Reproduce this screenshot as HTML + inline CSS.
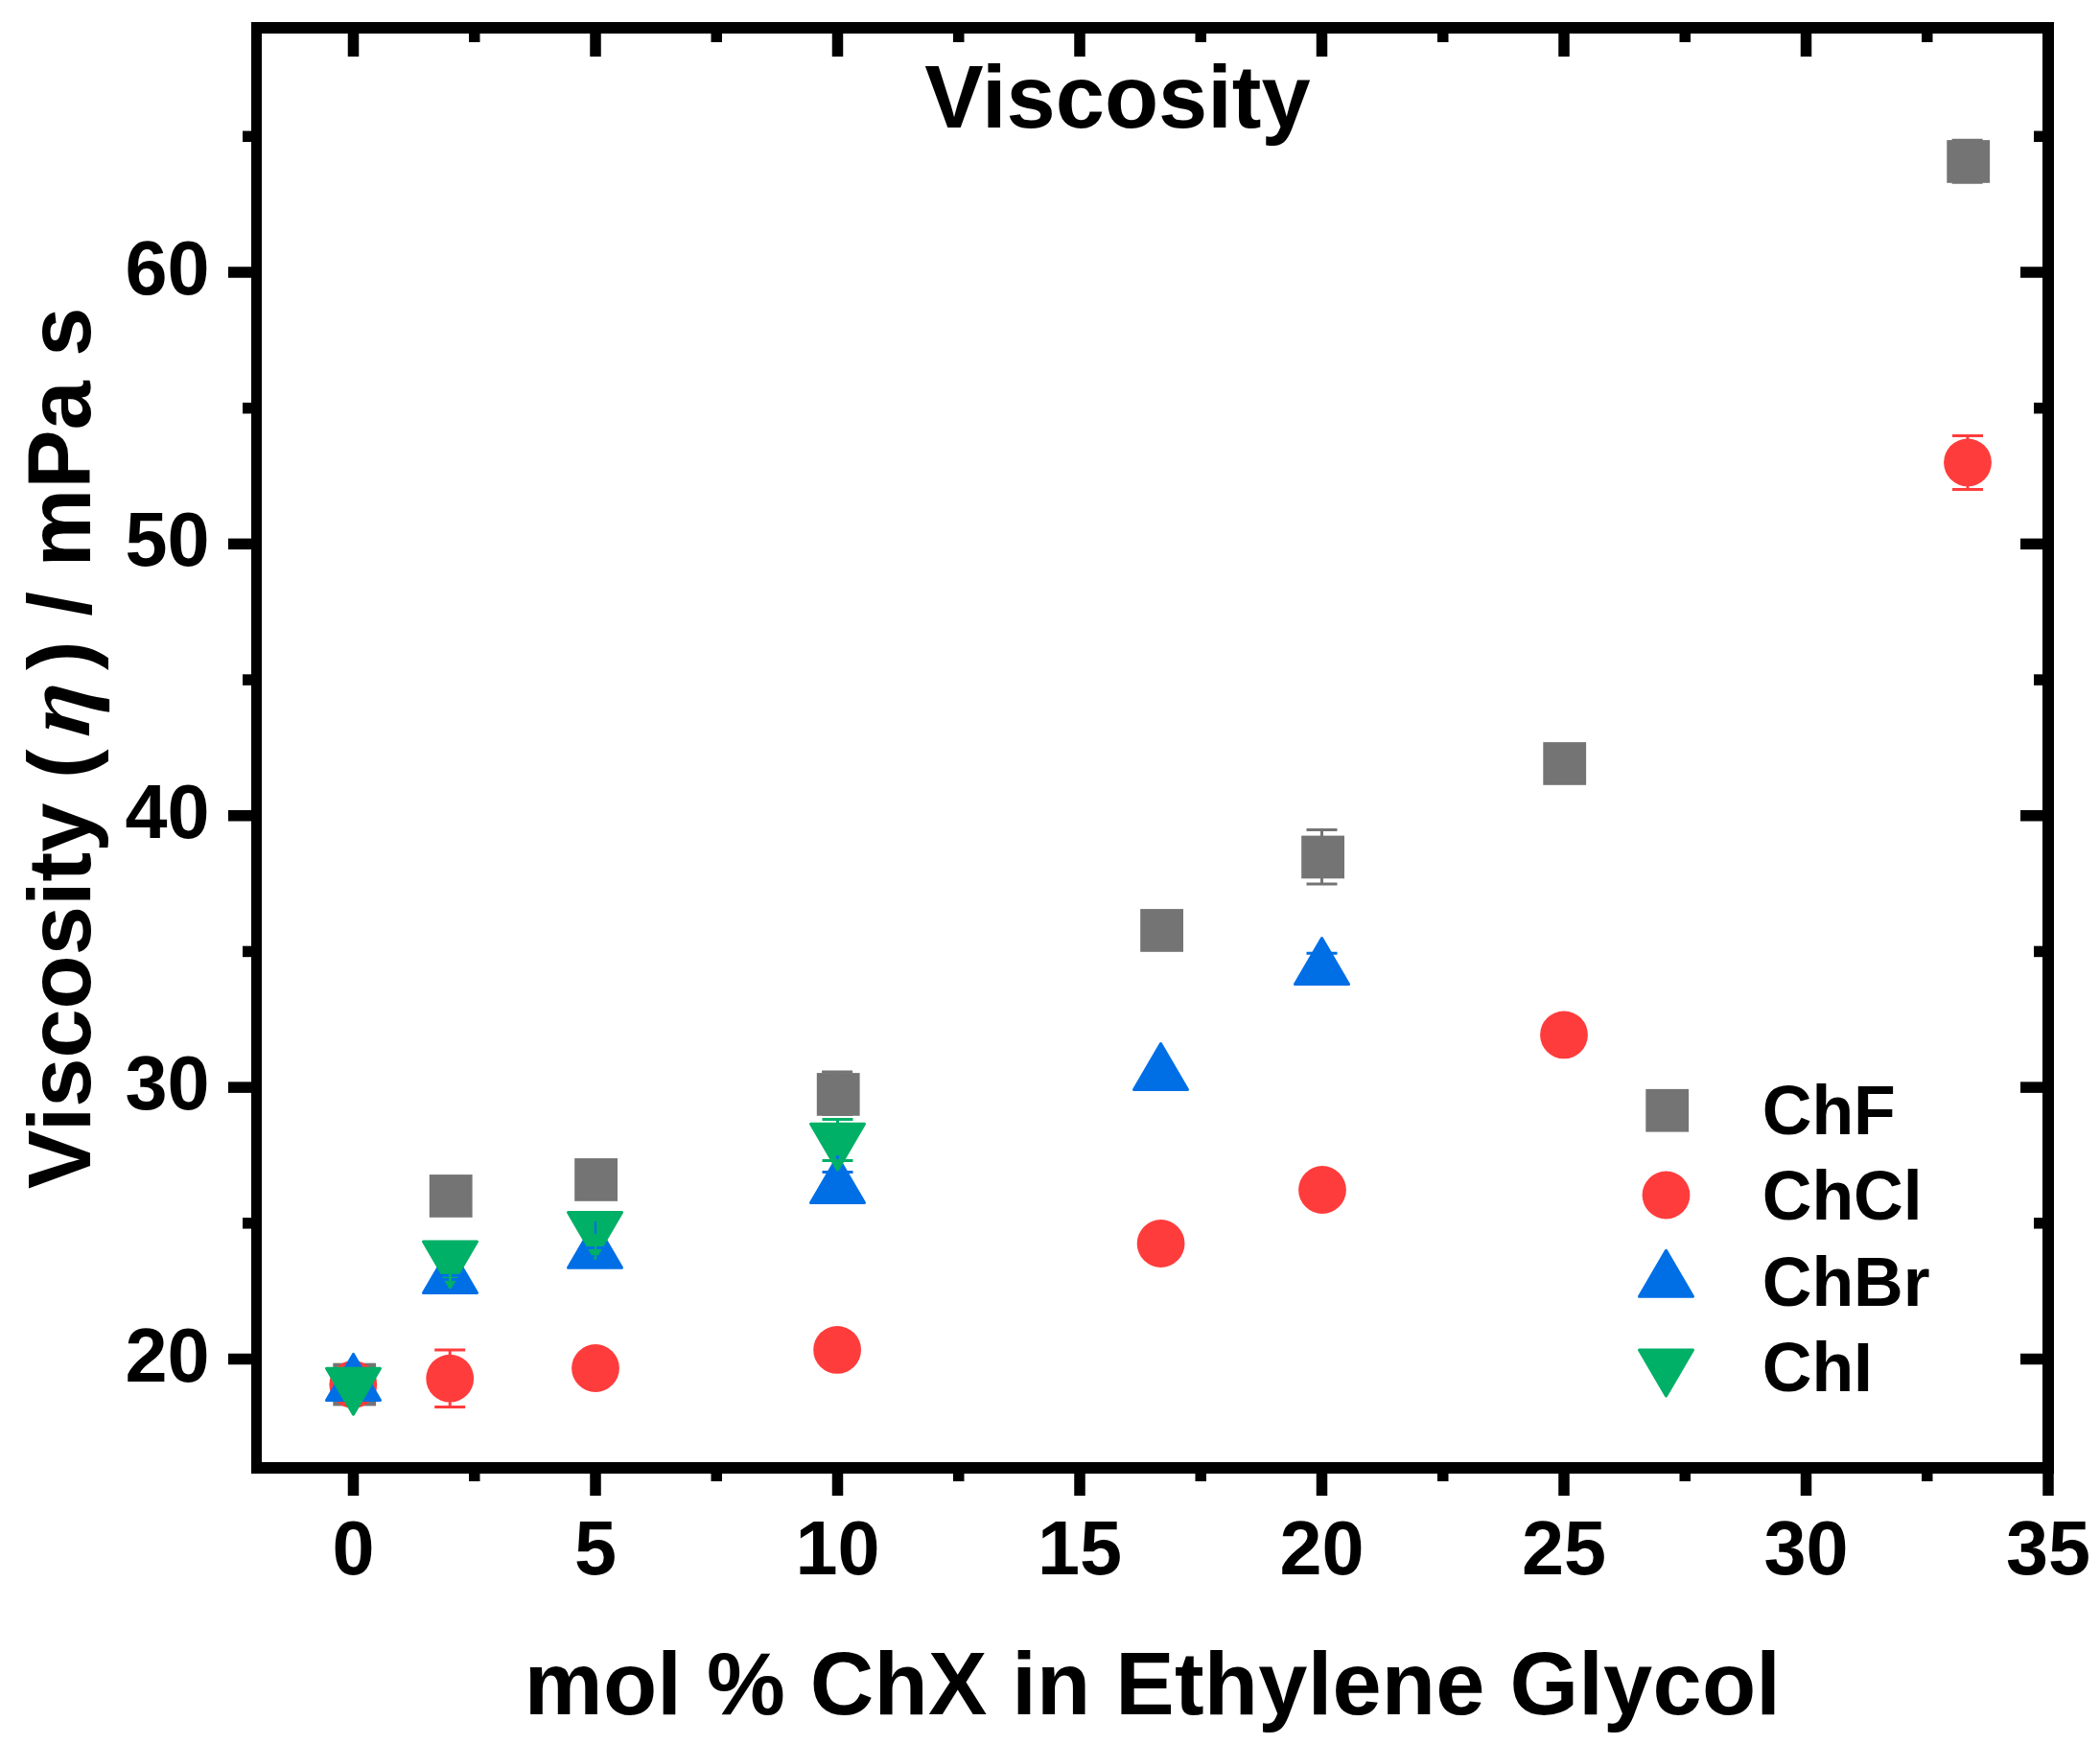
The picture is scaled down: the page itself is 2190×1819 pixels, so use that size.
<!DOCTYPE html>
<html lang="en"><head><meta charset="utf-8"><title>Viscosity</title>
<style>html,body{margin:0;padding:0;background:#fff;overflow:hidden}svg{display:block}text{font-family:"Liberation Sans",sans-serif;font-weight:bold;fill:#000}.eta{font-family:"Liberation Serif","DejaVu Serif",serif;font-style:italic;font-weight:bold}</style></head><body>
<svg width="2190" height="1819" viewBox="0 0 2190 1819">
<rect x="0" y="0" width="2190" height="1819" fill="#fff"/>
<g id="data">
<rect x="347.3" y="1421.7" width="44.8" height="44.7" fill="#747474"/>
<rect x="447.8" y="1225.1" width="44.8" height="44.7" fill="#747474"/>
<rect x="599.2" y="1208.1" width="44.8" height="44.7" fill="#747474"/>
<path d="M857.1 1118.0H889.1M857.1 1162.4H889.1M873.1 1118.0V1162.4" stroke="#747474" stroke-width="3" fill="none"/>
<rect x="851.8" y="1119.1" width="44.8" height="44.7" fill="#747474"/>
<rect x="1189.2" y="948.1" width="44.8" height="44.7" fill="#747474"/>
<path d="M1362.5 865.5H1394.5M1362.5 921.9H1394.5M1378.5 865.5V921.9" stroke="#747474" stroke-width="3" fill="none"/>
<rect x="1357.2" y="871.6" width="44.8" height="44.7" fill="#747474"/>
<rect x="1609.3" y="774.1" width="44.8" height="44.7" fill="#747474"/>
<path d="M2035.6 146.2H2067.6M2035.6 190.2H2067.6M2051.6 146.2V190.2" stroke="#747474" stroke-width="3" fill="none"/>
<rect x="2030.3" y="146.1" width="44.8" height="44.7" fill="#747474"/>
<circle cx="368.3" cy="1444.0" r="24.9" fill="#ff3c3c"/>
<path d="M453.2 1407.9H485.2M453.2 1467.5H485.2M469.2 1407.9V1467.5" stroke="#ff3c3c" stroke-width="3" fill="none"/>
<circle cx="469.2" cy="1437.7" r="24.9" fill="#ff3c3c"/>
<circle cx="621.0" cy="1427.0" r="24.9" fill="#ff3c3c"/>
<circle cx="873.1" cy="1407.9" r="24.9" fill="#ff3c3c"/>
<circle cx="1210.6" cy="1297.0" r="24.9" fill="#ff3c3c"/>
<circle cx="1379.0" cy="1241.0" r="24.9" fill="#ff3c3c"/>
<circle cx="1631.0" cy="1079.4" r="24.9" fill="#ff3c3c"/>
<path d="M2036.0 454.4H2068.0M2036.0 510.4H2068.0M2052.0 454.4V510.4" stroke="#ff3c3c" stroke-width="3" fill="none"/>
<circle cx="2052.0" cy="482.4" r="24.9" fill="#ff3c3c"/>
<path d="M368.5 1412.4 L396.5 1460.4 L340.5 1460.4Z" fill="#006fe6" stroke="#006fe6" stroke-width="3" stroke-linejoin="round"/>
<path d="M469.5 1300.4 L497.5 1348.4 L441.5 1348.4Z" fill="#006fe6" stroke="#006fe6" stroke-width="3" stroke-linejoin="round"/>
<path d="M620.5 1274.3 L648.5 1322.3 L592.5 1322.3Z" fill="#006fe6" stroke="#006fe6" stroke-width="3" stroke-linejoin="round"/>
<path d="M857.5 1222.5H889.5M857.5 1254.5H889.5M873.5 1222.5V1254.5" stroke="#006fe6" stroke-width="3" fill="none"/>
<path d="M873.5 1206.5 L901.5 1254.5 L845.5 1254.5Z" fill="#006fe6" stroke="#006fe6" stroke-width="3" stroke-linejoin="round"/>
<path d="M1210.5 1088.5 L1238.5 1136.5 L1182.5 1136.5Z" fill="#006fe6" stroke="#006fe6" stroke-width="3" stroke-linejoin="round"/>
<path d="M1362.5 994.3H1394.5M1362.5 1026.3H1394.5M1378.5 994.3V1026.3" stroke="#006fe6" stroke-width="3" fill="none"/>
<path d="M1378.5 978.5 L1406.5 1026.5 L1350.5 1026.5Z" fill="#006fe6" stroke="#006fe6" stroke-width="3" stroke-linejoin="round"/>
<path d="M368.5 1475.2 L396.5 1427.2 L340.5 1427.2Z" fill="#00b066" stroke="#00b066" stroke-width="3" stroke-linejoin="round"/>
<path d="M469.5 1343.0 L497.5 1295.0 L441.5 1295.0Z" fill="#00b066" stroke="#00b066" stroke-width="3" stroke-linejoin="round"/>
<path d="M620.5 1312.6 L648.5 1264.6 L592.5 1264.6Z" fill="#00b066" stroke="#00b066" stroke-width="3" stroke-linejoin="round"/>
<path d="M857.5 1167.5H889.5M857.5 1210.5H889.5M873.5 1167.5V1210.5" stroke="#00b066" stroke-width="3" fill="none"/>
<path d="M873.5 1220.3 L901.5 1172.3 L845.5 1172.3Z" fill="#00b066" stroke="#00b066" stroke-width="3" stroke-linejoin="round"/>
<rect x="455" y="1328.8" width="30.0" height="3.0" fill="#006fe6"/>
<rect x="455" y="1333.1" width="30.0" height="2.8" fill="#006fe6"/>
<rect x="468" y="1328.8" width="3.0" height="7.4" fill="#00b066"/>
<rect x="619.8" y="1274" width="2.3" height="13.0" fill="#006fe6"/>
<rect x="606" y="1300" width="30.0" height="3.0" fill="#006fe6"/>
<rect x="606" y="1309" width="30.0" height="3.0" fill="#006fe6"/>
<rect x="619.8" y="1300" width="2.3" height="12.2" fill="#00b066"/>
<rect x="872" y="1205.2" width="3.0" height="3.7" fill="#006fe6"/>
</g>
<g id="frame" fill="#000">
<rect x="262" y="23" width="1880" height="12"/>
<rect x="262" y="1525" width="1880" height="12"/>
<rect x="262" y="23" width="11" height="1514"/>
<rect x="2130" y="23" width="12" height="1514"/>
<rect x="362.75" y="1536" width="11.5" height="24"/>
<rect x="362.75" y="34" width="11.5" height="25"/>
<rect x="615.25" y="1536" width="11.5" height="24"/>
<rect x="615.25" y="34" width="11.5" height="25"/>
<rect x="867.75" y="1536" width="11.5" height="24"/>
<rect x="867.75" y="34" width="11.5" height="25"/>
<rect x="1120.25" y="1536" width="11.5" height="24"/>
<rect x="1120.25" y="34" width="11.5" height="25"/>
<rect x="1372.75" y="1536" width="11.5" height="24"/>
<rect x="1372.75" y="34" width="11.5" height="25"/>
<rect x="1625.25" y="1536" width="11.5" height="24"/>
<rect x="1625.25" y="34" width="11.5" height="25"/>
<rect x="1877.75" y="1536" width="11.5" height="24"/>
<rect x="1877.75" y="34" width="11.5" height="25"/>
<rect x="2130.25" y="1536" width="11.5" height="24"/>
<rect x="489.00" y="1536" width="11.5" height="9"/>
<rect x="489.00" y="34" width="11.5" height="10"/>
<rect x="741.50" y="1536" width="11.5" height="9"/>
<rect x="741.50" y="34" width="11.5" height="10"/>
<rect x="994.00" y="1536" width="11.5" height="9"/>
<rect x="994.00" y="34" width="11.5" height="10"/>
<rect x="1246.50" y="1536" width="11.5" height="9"/>
<rect x="1246.50" y="34" width="11.5" height="10"/>
<rect x="1499.00" y="1536" width="11.5" height="9"/>
<rect x="1499.00" y="34" width="11.5" height="10"/>
<rect x="1751.50" y="1536" width="11.5" height="9"/>
<rect x="1751.50" y="34" width="11.5" height="10"/>
<rect x="2004.00" y="1536" width="11.5" height="9"/>
<rect x="2004.00" y="34" width="11.5" height="10"/>
<rect x="238" y="1411.75" width="25" height="11.5"/>
<rect x="2107" y="1411.75" width="24" height="11.5"/>
<rect x="238" y="1128.38" width="25" height="11.5"/>
<rect x="2107" y="1128.38" width="24" height="11.5"/>
<rect x="238" y="845.00" width="25" height="11.5"/>
<rect x="2107" y="845.00" width="24" height="11.5"/>
<rect x="238" y="561.62" width="25" height="11.5"/>
<rect x="2107" y="561.62" width="24" height="11.5"/>
<rect x="238" y="278.25" width="25" height="11.5"/>
<rect x="2107" y="278.25" width="24" height="11.5"/>
<rect x="253" y="1270.06" width="10" height="11.5"/>
<rect x="2121" y="1270.06" width="10" height="11.5"/>
<rect x="253" y="986.69" width="10" height="11.5"/>
<rect x="2121" y="986.69" width="10" height="11.5"/>
<rect x="253" y="703.31" width="10" height="11.5"/>
<rect x="2121" y="703.31" width="10" height="11.5"/>
<rect x="253" y="419.94" width="10" height="11.5"/>
<rect x="2121" y="419.94" width="10" height="11.5"/>
<rect x="253" y="136.56" width="10" height="11.5"/>
<rect x="2121" y="136.56" width="10" height="11.5"/>
</g>
<g id="xticklabels" font-size="79.2" text-anchor="middle">
<text x="368.5" y="1641.5">0</text>
<text x="621.0" y="1641.5">5</text>
<text x="873.5" y="1641.5">10</text>
<text x="1126.0" y="1641.5">15</text>
<text x="1378.5" y="1641.5">20</text>
<text x="1631.0" y="1641.5">25</text>
<text x="1883.5" y="1641.5">30</text>
<text x="2136.0" y="1641.5">35</text>
</g>
<g id="yticklabels" font-size="79.2" text-anchor="end">
<text x="218.5" y="1440.5">20</text>
<text x="218.5" y="1157.1">30</text>
<text x="218.5" y="873.8">40</text>
<text x="218.5" y="590.4">50</text>
<text x="218.5" y="307.0">60</text>
</g>
<text id="title" x="1165.5" y="133" font-size="92" text-anchor="middle">Viscosity</text>
<text id="xlabel" x="1202" y="1787.7" font-size="92" text-anchor="middle" letter-spacing="0.24">mol % ChX in Ethylene Glycol</text>
<g id="ylabel" transform="translate(94.1 1240) rotate(-90)" font-size="92">
<text x="0" y="0">Viscosity (</text>
<text class="eta" font-size="99" transform="translate(470.5 -1.5) skewX(-6)" x="0" y="0">η</text>
<text x="919.5" y="0" text-anchor="end">) / mPa s</text>
</g>
<g id="legend">
<rect x="1716.3" y="1135.9" width="44.8" height="44.7" fill="#747474"/>
<circle cx="1737.5" cy="1246.5" r="24.9" fill="#ff3c3c"/>
<path d="M1737.5 1304.2 L1765.5 1352.2 L1709.5 1352.2Z" fill="#006fe6" stroke="#006fe6" stroke-width="3" stroke-linejoin="round"/>
<path d="M1737.5 1456.0 L1765.5 1408.0 L1709.5 1408.0Z" fill="#00b066" stroke="#00b066" stroke-width="3" stroke-linejoin="round"/>
<g font-size="71.6">
<text x="1837.7" y="1182.9">ChF</text>
<text x="1837.7" y="1271.8">ChCl</text>
<text x="1837.7" y="1361.9">ChBr</text>
<text x="1837.7" y="1451.0">ChI</text>
</g></g>
</svg></body></html>
